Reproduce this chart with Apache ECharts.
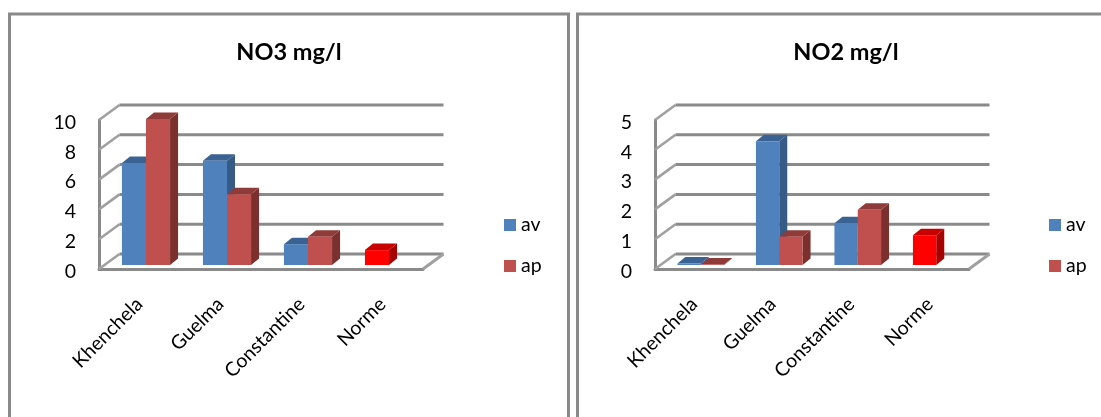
<!DOCTYPE html>
<html>
<head>
<meta charset="utf-8">
<style>
html,body{margin:0;padding:0;background:#fff;overflow:hidden}
#chart{width:1101px;height:417px}
</style>
<script src="https://cdn.jsdelivr.net/npm/echarts@6/dist/echarts.min.js"></script>
</head>
<body>
<div id="chart"></div>
<script>
// Nitrate and nitrite levels per site, before (av) and after (ap) treatment.
const categories = ['Khenchela', 'Guelma', 'Constantine', 'Norme'];
const no3Av = [6.85, 7.0, 1.4, 1.0];
const no3Ap = [9.8, 4.75, 1.9, null];
const no2Av = [0.05, 4.15, 1.4, 1.0];
const no2Ap = [0.02, 0.95, 1.85, null];
const no3Ticks = [0, 2, 4, 6, 8, 10];
const no2Ticks = [0, 1, 2, 3, 4, 5];

const FONT = 'Lato';
const GREY = '#8a8a8a';
const GREY_LIGHT = '#a0a0a0';
const PALETTE = {
  av: { front: '#4f81bd', top: '#3a6293', side: '#375b87' },
  ap: { front: '#c0504d', top: '#8f3b39', side: '#7b302e' },
  limit: { front: '#ff0000', top: '#c80000', side: '#a60000' }
};
// Oblique projection of the 3D box: wall depth and bar depth, in pixels.
const WALL_DX = 20.5, WALL_DY = 15;
const BAR_DX = 8, BAR_DY = 6.5;
const BAR_SHIFT_X = 6.5, BAR_SHIFT_Y = 4;
const BAR_RATIO = 0.297;

function wallSeries(gridIndex, ticks) {
  return {
    type: 'custom',
    xAxisIndex: gridIndex,
    yAxisIndex: gridIndex,
    silent: true,
    z: 1,
    clip: false,
    data: ticks.map(t => [0, t]),
    encode: { x: 0, y: 1 },
    renderItem(params, api) {
      const rect = params.coordSys;
      const y = api.coord([0, api.value(1)])[1];
      const x0 = rect.x, x1 = rect.x + rect.width;
      const children = [
        { type: 'line',
          shape: { x1: x0, y1: y, x2: x0 + WALL_DX, y2: y - WALL_DY },
          style: { stroke: GREY_LIGHT, lineWidth: 2.6 } },
        { type: 'line',
          shape: { x1: x0 + WALL_DX, y1: y - WALL_DY, x2: x1 + WALL_DX, y2: y - WALL_DY },
          style: { stroke: GREY, lineWidth: 3 } }
      ];
      if (api.value(1) === 0) {
        children.push({
          type: 'line',
          shape: { x1: x1, y1: y, x2: x1 + WALL_DX, y2: y - WALL_DY },
          style: { stroke: GREY_LIGHT, lineWidth: 3 }
        });
      }
      return { type: 'group', children };
    }
  };
}

function barSeries(gridIndex, name, key, values, slot) {
  return {
    type: 'custom',
    name,
    xAxisIndex: gridIndex,
    yAxisIndex: gridIndex,
    z: 3 + slot,
    clip: false,
    itemStyle: { color: PALETTE[key].front },
    data: values.map((v, i) => [i, v]).filter(d => d[1] !== null),
    encode: { x: 0, y: 1 },
    renderItem(params, api) {
      const idx = api.value(0);
      const colors = categories[idx] === 'Norme' ? PALETTE.limit : PALETTE[key];
      const base = api.coord([idx, 0]);
      const head = api.coord([idx, api.value(1)]);
      const w = api.size([1, 0])[0] * BAR_RATIO;
      const xa = base[0] + BAR_SHIFT_X + (slot - 1) * w;
      const xb = xa + w;
      const yb = base[1] - BAR_SHIFT_Y;
      const yt = head[1] - BAR_SHIFT_Y;
      return {
        type: 'group',
        children: [
          { type: 'polygon',
            shape: { points: [[xb, yt], [xb + BAR_DX, yt - BAR_DY], [xb + BAR_DX, yb - BAR_DY], [xb, yb]] },
            style: { fill: colors.side } },
          { type: 'polygon',
            shape: { points: [[xa, yt], [xa + BAR_DX, yt - BAR_DY], [xb + BAR_DX, yt - BAR_DY], [xb, yt]] },
            style: { fill: colors.top } },
          { type: 'rect',
            shape: { x: xa, y: yt, width: w, height: yb - yt },
            style: { fill: colors.front } }
        ]
      };
    }
  };
}

function xAxis(gridIndex) {
  return {
    type: 'category',
    gridIndex,
    data: categories,
    axisTick: { show: false },
    axisLine: { show: true, lineStyle: { color: GREY, width: 3 } },
    axisLabel: { interval: 0, rotate: 45, margin: 32, color: '#000', fontFamily: FONT, fontSize: 19.5 }
  };
}

function yAxis(gridIndex, ticks) {
  return {
    type: 'value',
    gridIndex,
    min: 0,
    max: ticks[ticks.length - 1],
    interval: ticks[1] - ticks[0],
    splitLine: { show: false },
    axisTick: { show: false },
    axisLine: { show: true, lineStyle: { color: GREY, width: 3 } },
    axisLabel: { margin: 23, color: '#000', fontFamily: FONT, fontSize: 19.5, verticalAlign: 'top', lineHeight: 5 }
  };
}

function legend(left) {
  return {
    left, top: 215, padding: 0,
    orient: 'vertical',
    icon: 'rect',
    itemWidth: 12, itemHeight: 12,
    itemGap: 21,
    selectedMode: false,
    data: ['av', 'ap'],
    textStyle: { color: '#000', fontFamily: FONT, fontSize: 19.5 }
  };
}

function title(text, left) {
  return {
    text, left, top: 40, textAlign: 'center', padding: 0,
    textStyle: { color: '#000', fontFamily: FONT, fontSize: 23.5, fontWeight: 'bold' }
  };
}

function panel(x, width) {
  return {
    type: 'rect', silent: true, z: 0,
    shape: { x, y: 14, width, height: 440 },
    style: { fill: null, stroke: GREY, lineWidth: 3 }
  };
}

const chart = echarts.init(document.getElementById('chart'), null, { renderer: 'canvas' });
chart.setOption({
  animation: false,
  backgroundColor: '#fff',
  title: [title('NO3 mg/l', 289), title('NO2 mg/l', 846)],
  legend: [legend(504), legend(1049)],
  graphic: [panel(9.5, 559), panel(577.5, 600)],
  grid: [
    { left: 99, top: 120, width: 324, height: 149, show: false },
    { left: 655, top: 120, width: 314, height: 149, show: false }
  ],
  xAxis: [xAxis(0), xAxis(1)],
  yAxis: [yAxis(0, no3Ticks), yAxis(1, no2Ticks)],
  series: [
    wallSeries(0, no3Ticks),
    wallSeries(1, no2Ticks),
    barSeries(0, 'av', 'av', no3Av, 0),
    barSeries(0, 'ap', 'ap', no3Ap, 1),
    barSeries(1, 'av', 'av', no2Av, 0),
    barSeries(1, 'ap', 'ap', no2Ap, 1)
  ]
});
</script>
</body>
</html>
